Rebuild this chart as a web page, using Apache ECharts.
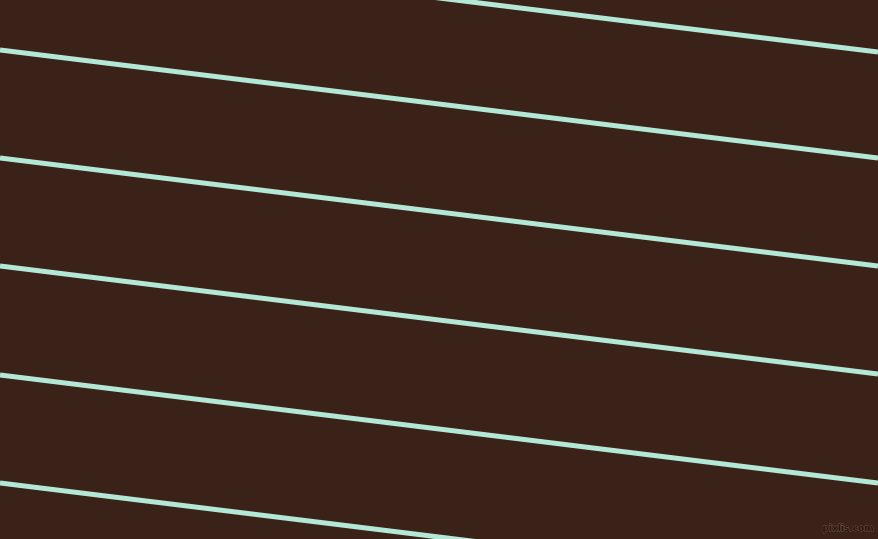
<!DOCTYPE html>
<html>
<head>
<meta charset="utf-8">
<script src="https://cdn.jsdelivr.net/npm/echarts@6/dist/echarts.min.js"></script>
<style>
html,body{margin:0;padding:0;background:#3b2219;}
#chart{width:878px;height:539px;}
</style>
</head>
<body>
<div id="chart"></div>
<script>
// Stripe positions (pixel coordinate space of the canvas)
const xStart = 0;
const xEnd = 878;
const leftY = [-56, 50, 158, 266, 375, 483];
const rightY = [52, 158, 266, 374, 483, 591];

const chart = echarts.init(document.getElementById('chart'));
const series = leftY.map((ly, i) => ({
  type: 'line',
  data: [[xStart, ly], [xEnd, rightY[i]]],
  symbol: 'none',
  silent: true,
  clip: true,
  lineStyle: { color: '#b3e8d7', width: 5 }
}));

chart.setOption({
  backgroundColor: '#3b2219',
  animation: false,
  grid: { left: 0, right: 0, top: 0, bottom: 0 },
  xAxis: { type: 'value', min: 0, max: 878, show: false },
  yAxis: { type: 'value', min: 0, max: 539, inverse: true, show: false },
  series: series,
  graphic: [{
    type: 'text',
    right: 4,
    bottom: 5,
    style: {
      text: 'pixlis.com',
      font: 'bold 9px "DejaVu Sans", sans-serif',
      fill: '#2a1710',
      stroke: '#6a5446',
      lineWidth: 0.8
    }
  }]
});
</script>
</body>
</html>
